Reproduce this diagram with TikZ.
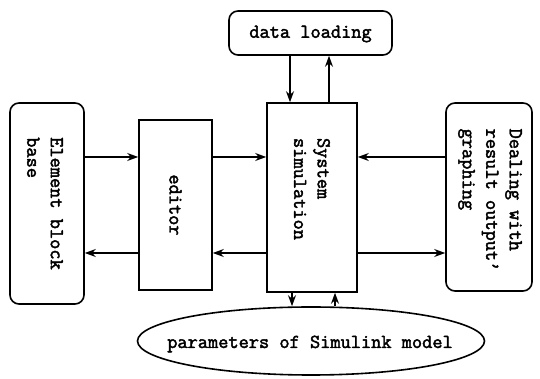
\documentclass[tikz,border=0pt]{standalone}
\usepackage{fontspec}
\setmonofont[AutoFakeBold=2.2]{Latin Modern Mono}
\usetikzlibrary{arrows.meta,shapes.geometric}
\begin{document}
\begin{tikzpicture}[x=1pt,y=1pt,
  lbl/.style={font=\ttfamily\bfseries\fontsize{19.8}{23.5}\selectfont, inner sep=0pt},
  box/.style={draw, line width=1.6pt, inner sep=0pt},
  rbox/.style={box, rounded corners=9pt},
  arr/.style={line width=1.3pt, -{Stealth[length=11pt,width=8pt]}}]
\useasboundingbox (0,0) rectangle (540,379);
% boxes
\node[rbox, minimum width=74, minimum height=201] (elem) at (47,175.5) {};
\node[box, minimum width=73, minimum height=170] (editor) at (175.5,174) {};
\node[box, minimum width=90, minimum height=189] (sys) at (312,181.5) {};
\node[rbox, minimum width=86, minimum height=188] (deal) at (489,182) {};
\node[rbox, minimum width=163, minimum height=44] (load) at (310.5,346) {};
\node[box, ellipse, minimum width=347, minimum height=68] (ell) at (311,38) {};
% texts
\node[lbl, rotate=-90, align=left] (elemt) at (45,175.5) {Element block\\base};
\node[lbl, rotate=-90] (editort) at (175.5,174) {editor};
\node[lbl, rotate=-90, align=left] (syst) at (312,190) {System\\simulation};
\node[lbl, rotate=-90, align=left] (dealt) at (490,179) {Dealing with\\result output’\\graphing};
\node[lbl] (loadt) at (310.5,345) {data loading};
\node[lbl] (ellt) at (310,35) {parameters of Simulink model};
% connector rows
\coordinate (up) at (0,222);
\coordinate (lo) at (0,126);
\draw[arr] (elem.east |- up) -- (editor.west |- up);
\draw[arr] (editor.west |- lo) -- (elem.east |- lo);
\draw[arr] (editor.east |- up) -- (sys.west |- up);
\draw[arr] (sys.west |- lo) -- (editor.east |- lo);
\draw[arr] (deal.west |- up) -- (sys.east |- up);
\draw[arr] (sys.east |- lo) -- (deal.west |- lo);
% vertical connectors
\coordinate (d1) at (290,0);
\coordinate (u1) at (329,0);
\coordinate (d2) at (292,0);
\coordinate (u2) at (335,0);
\draw[arr] (load.south -| d1) -- (sys.north -| d1);
\draw[arr] (sys.north -| u1) -- (load.south -| u1);
\draw[arr] (sys.south -| d2) -- (ell.north -| d2);
\draw[arr] (ell.north -| u2) -- (sys.south -| u2);
\end{tikzpicture}
\end{document}
